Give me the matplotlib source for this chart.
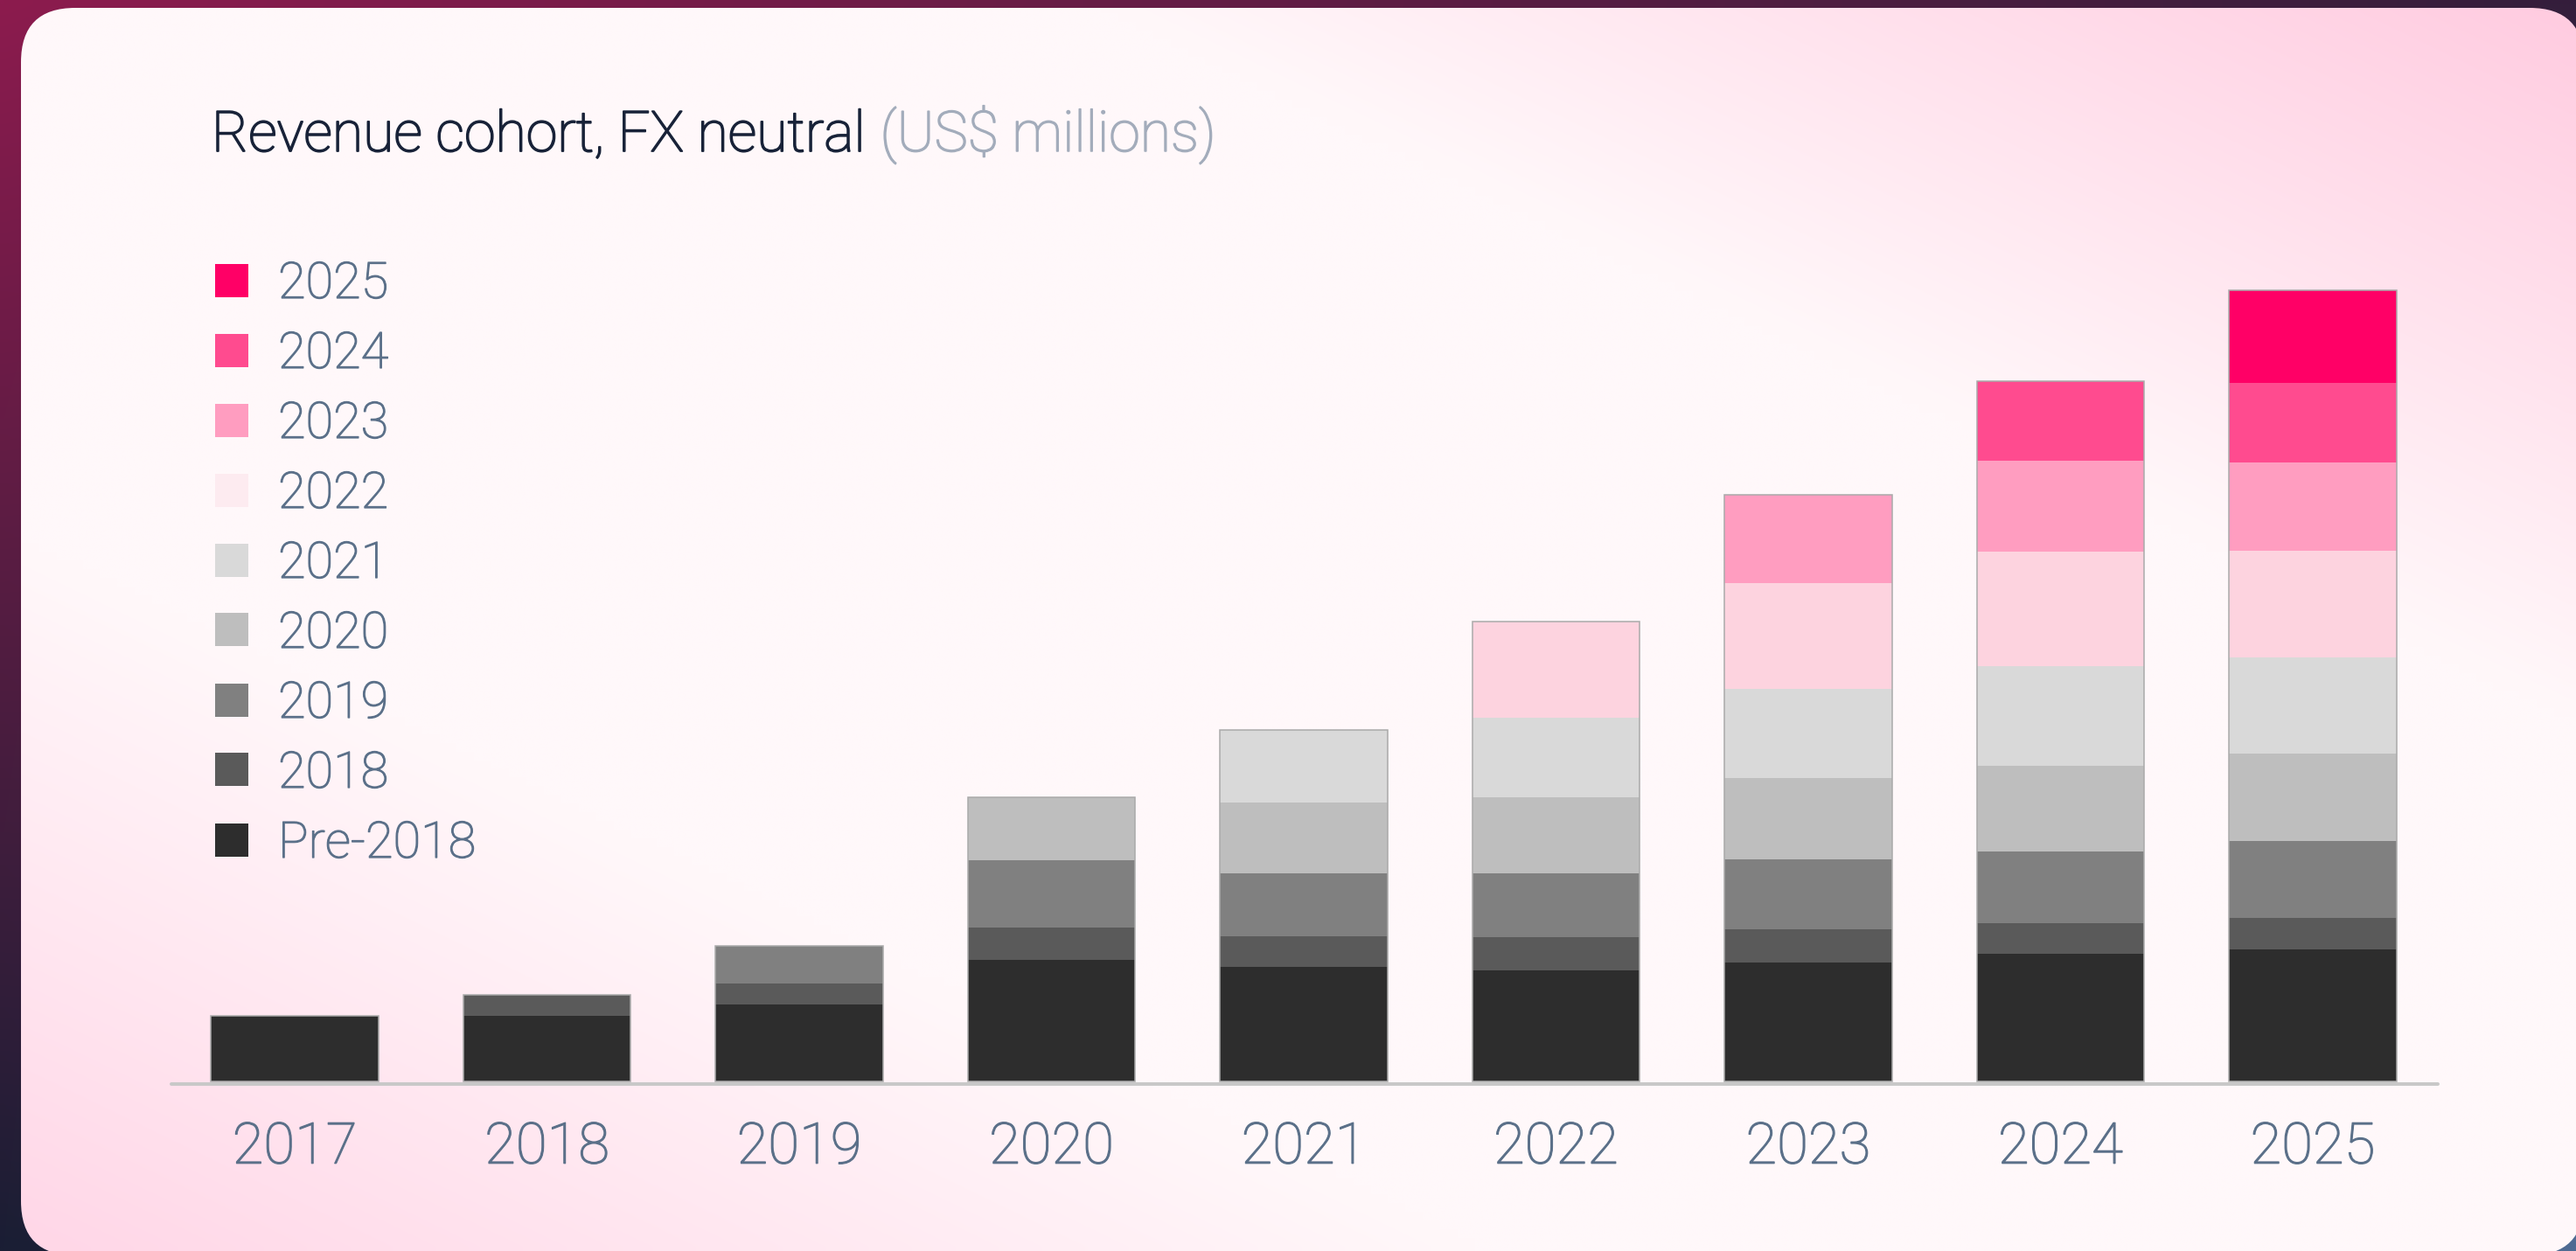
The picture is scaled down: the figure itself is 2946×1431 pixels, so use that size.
import numpy as np
import matplotlib
matplotlib.use("Agg")
import matplotlib.pyplot as plt
import matplotlib.patheffects as pe
from matplotlib.patches import FancyBboxPatch, Rectangle
from matplotlib.colors import to_rgb

# ---------------- data (US$ millions, stacked cohorts) ----------------
years = ["2017", "2018", "2019", "2020", "2021", "2022", "2023", "2024", "2025"]
cohorts = ["Pre-2018", "2018", "2019", "2020", "2021", "2022", "2023", "2024", "2025"]
pre_2018 = [75, 75, 88, 138.7, 131, 127, 136.5, 146, 151]
c2018 = [0, 24.4, 23.7, 37.4, 35.3, 38, 37.8, 35, 36.3]
c2019 = [0, 0, 43.6, 77.4, 71.7, 73, 79.8, 82, 87.9]
c2020 = [0, 0, 0, 71.6, 80.7, 87.3, 93, 98, 99.4]
c2021 = [0, 0, 0, 0, 83.6, 91.1, 101.9, 114, 110.9]
c2022 = [0, 0, 0, 0, 0, 109.6, 120.6, 131.5, 121.2]
c2023 = [0, 0, 0, 0, 0, 0, 101, 103.6, 101.8]
c2024 = [0, 0, 0, 0, 0, 0, 0, 90.9, 91]
c2025 = [0, 0, 0, 0, 0, 0, 0, 0, 105.5]
series = [pre_2018, c2018, c2019, c2020, c2021, c2022, c2023, c2024, c2025]

bar_colors = ["#2d2d2d", "#5a5a5a", "#808080", "#bebebe", "#d9d9d9",
              "#fdd3df", "#ff9dc0", "#ff4b8f", "#ff0066"]
legend_colors = ["#2d2d2d", "#5a5a5a", "#808080", "#bebebe", "#d9d9d9",
                 "#fdebf0", "#ff9dc0", "#ff4b8f", "#ff0066"]

W, H = 2946, 1431
FONT = ["Roboto", "DejaVu Sans"]
LABEL_COLOR = "#5b7089"
thick = [pe.withStroke(linewidth=0.9, foreground=LABEL_COLOR)]

fig = plt.figure(figsize=(W / 100, H / 100), dpi=100)

# ---------------- background ----------------
bg = fig.add_axes([0, 0, 1, 1])
bg.set_xlim(0, W)
bg.set_ylim(H, 0)
bg.axis("off")

nx, ny = 296, 144
X, Y = np.meshgrid(np.linspace(0, 1, nx), np.linspace(0, 1, ny))
TL, TR, BL, BR = [np.array(to_rgb(c)) for c in ("#8c1b4e", "#341e3b", "#1a1e34", "#4f6b93")]
outer = (TL * ((1 - X) * (1 - Y))[..., None] + TR * (X * (1 - Y))[..., None]
         + BL * ((1 - X) * Y)[..., None] + BR * (X * Y)[..., None])
bg.imshow(outer, extent=(0, W, H, 0), aspect="auto", interpolation="bilinear", zorder=0)

Xp, Yp = X * W, Y * H
diag = np.hypot(W, H)
sd = (Xp * H - Yp * W) / diag           # >0 towards top-right, <0 towards bottom-left
dmax = W * H / diag
f = np.clip((np.abs(sd) - 550) / (dmax - 550), 0, 1)[..., None]
white = np.array(to_rgb("#fff8fa"))
pink_tr = np.array(to_rgb("#ffcbe0"))
pink_bl = np.array(to_rgb("#ffd6e7"))
pink = np.where((sd > 0)[..., None], pink_tr, pink_bl)
card_img = white + f * (pink - white)
im = bg.imshow(card_img, extent=(0, W, H, 0), aspect="auto", interpolation="bilinear", zorder=1)
card = FancyBboxPatch((24, 9), 2955 - 24, 1436 - 9,
                      boxstyle="round,pad=0,rounding_size=62",
                      transform=bg.transData, facecolor="none", edgecolor="none")
bg.add_patch(card)
im.set_clip_path(card)

# ---------------- main axes ----------------
top_px, bot_px = 300, 1247
ax = fig.add_axes([194 / W, 1 - bot_px / H, (2790 - 194) / W, (bot_px - top_px) / H])
ax.set_facecolor("none")
ax.set_xlim(-0.496, 8.503)
ax.set_ylim(-10, 937)

x = np.arange(len(years))
width = 0.664
bottom = np.zeros(len(years))
for vals, col in zip(series, bar_colors):
    v = np.array(vals, dtype=float)
    ax.bar(x, v, width=width, bottom=bottom, color=col, linewidth=0, zorder=2)
    bottom += v
ax.bar(x, bottom, width=width, fill=False, edgecolor="#aaaaaa", linewidth=1.1, zorder=3)

ax.plot([-0.49, 8.497], [-3, -3], color="#c8c8c8", lw=2.9,
        solid_capstyle="round", zorder=4, clip_on=False)

for s in ax.spines.values():
    s.set_visible(False)
ax.set_yticks([])
ax.set_xticks(x)
ax.set_xticklabels(years, fontfamily=FONT, fontweight="light")
ax.tick_params(axis="x", length=0, pad=25, labelsize=47, labelcolor=LABEL_COLOR)
for lbl in ax.get_xticklabels():
    lbl.set_path_effects(thick)

# ---------------- title ----------------
t1 = fig.text(242 / W, 1 - 173 / H, "Revenue cohort, FX neutral", fontsize=46.4,
              color="#182238", ha="left", va="baseline", family=FONT, fontweight="light",
              path_effects=[pe.withStroke(linewidth=1.3, foreground="#182238")])
fig.canvas.draw()
ext = t1.get_window_extent()
fig.text((ext.x1 + 17) / W, 1 - 173 / H, "(US$ millions)", fontsize=46.4,
         color="#a3acbb", ha="left", va="baseline", family=FONT, fontweight="light",
         path_effects=[pe.withStroke(linewidth=1.1, foreground="#a3acbb")])

# ---------------- legend ----------------
for i, (lab, col) in enumerate(zip(cohorts[::-1], legend_colors[::-1])):
    cy = 320.5 + 80 * i
    fig.patches.append(Rectangle((246 / W, 1 - (cy + 19) / H), 38 / W, 38 / H,
                                 transform=fig.transFigure, facecolor=col,
                                 edgecolor="none", zorder=5))
    fig.text(318 / W, 1 - (cy + 20.5) / H, lab, fontsize=41.5, color=LABEL_COLOR,
             ha="left", va="baseline", family=FONT, fontweight="light",
             path_effects=thick)

fig.savefig("out.png", dpi=100)
